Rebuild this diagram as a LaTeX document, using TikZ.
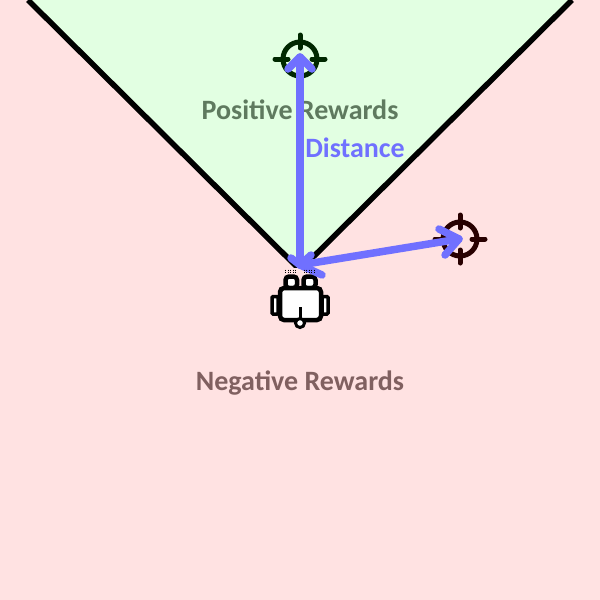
\documentclass[tikz,border=0pt]{standalone}
\usepackage{fontspec}
\setmainfont{Carlito}
\definecolor{bgneg}{RGB}{255,226,226}
\definecolor{bgpos}{RGB}{226,255,226}
\definecolor{arrowc}{RGB}{112,112,255}
\definecolor{txtpos}{RGB}{95,122,95}
\definecolor{txtneg}{RGB}{128,96,96}
\definecolor{tgtpos}{RGB}{0,40,0}
\definecolor{tgtneg}{RGB}{40,0,0}
\tikzset{
  x=1pt,y=-1pt,
  boundary/.style={line width=5.5pt,black},
  vec/.style={line width=7.5pt,arrowc,line cap=round,line join=round},
  lbl/.style={font=\bfseries\fontsize{28}{28}\selectfont,inner sep=0pt},
  tring/.style={line width=5pt},
  tick/.style={line width=5pt,line cap=round},
  rob/.style={line width=4.5pt,black,fill=white,rounded corners=2.5pt}
}
\newcommand{\targetmark}[3]{%
  \draw[tring,#3] (#1,#2) circle (17);
  \draw[tick,#3] (#1,#2-24) -- (#1,#2-11);
  \draw[tick,#3] (#1,#2+24) -- (#1,#2+11);
  \draw[tick,#3] (#1-25,#2) -- (#1-12,#2);
  \draw[tick,#3] (#1+25,#2) -- (#1+12,#2);
}
\begin{document}
\begin{tikzpicture}
\useasboundingbox (0,0) rectangle (600,600);
\fill[bgneg] (0,0) rectangle (600,600);
\coordinate (apex) at (300,270);
\coordinate (tl) at (28,0);
\coordinate (tr) at (572,0);
\fill[bgpos] (tl) -- (apex) -- (tr) -- cycle;
\draw[boundary] (tl) -- (apex) -- (tr);
% targets
\targetmark{300}{59}{tgtpos}
\targetmark{460}{239}{tgtneg}
% robot
\fill[bgneg] (281,268) rectangle (320,275);
\draw[rob,line width=3.5pt,rounded corners=1pt] (272,296.5) rectangle (278,314);
\draw[rob,line width=3.5pt,rounded corners=1pt] (322,296.5) rectangle (328,314);
\draw[rob,rounded corners=3.5pt] (285.5,288) rectangle (297,276.5);
\draw[rob,rounded corners=3.5pt] (303.5,288) rectangle (315.5,276.5);
\draw[rob,rounded corners=4pt] (280,288) rectangle (321,320);
\draw[line width=3pt,black] (300,307) -- (300,320);
\draw[line width=3pt,black,fill=white] (300,323) circle (4.5);
% labels
\node[lbl,text=txtpos] (pos) at (300,110) {Positive Rewards};
\node[lbl,text=txtneg] (neg) at (300,383.5) {Negative Rewards};
\node[lbl,text=arrowc] (dist) at (355,148) {Distance};
% vectors
\coordinate (o) at (300,265);
\coordinate (a1) at (300,57);
\coordinate (a2) at (459,239);
\draw[vec] (o) -- (a1);
\draw[vec] (288,69) -- (a1) -- (312,69);
\draw[vec] (o) -- (a2);
\draw[vec] (439,229) -- (a2) -- (445,255);
\draw[vec] (291,258) -- (o) -- (311,255);
\draw[vec] (o) -- (322,275);
\foreach \xa in {285.5,288,290.5,293,295.5,304,306.5,309,311.5,314}{
  \draw[line width=0.9pt,black,dash pattern=on 1pt off 1pt] (\xa,269.5) -- (\xa,273.5);
}
\end{tikzpicture}
\end{document}
